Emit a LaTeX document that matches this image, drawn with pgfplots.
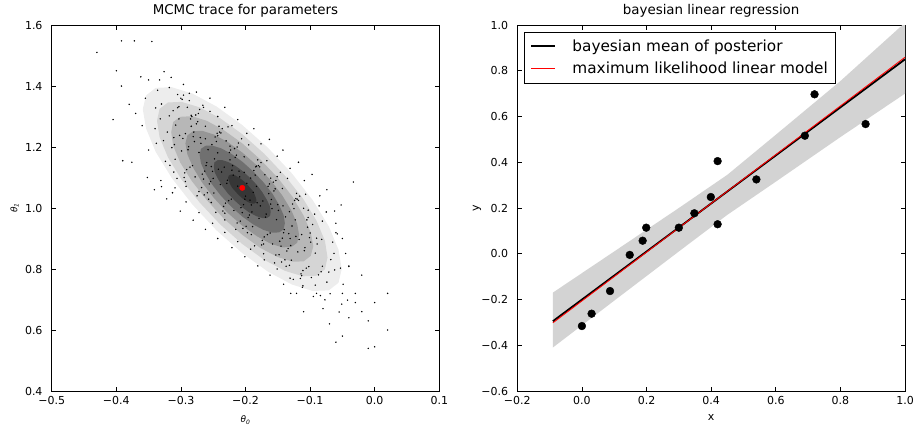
\documentclass[border=0pt]{standalone}
\usepackage{fontspec}
\setmainfont{DejaVu Sans}
\usepackage{pgfplots}
\pgfplotsset{compat=1.18}
\definecolor{bandgray}{RGB}{211,211,211}
\begin{document}
\begin{tikzpicture}
\path[use as bounding box] (0pt,0pt) rectangle (913pt,424pt);
\pgfplotsset{
  panel/.style={
    scale only axis, height=366pt,
    enlargelimits=false,
    axis line style={line width=0.9pt},
    every tick/.style={black, line width=0.6pt},
    major tick length=4.5pt,
    tick label style={font=\fontsize{11}{13}\selectfont, inner sep=0pt},
    yticklabel style={xshift=-9pt},
    xticklabel style={yshift=-5.5pt},
    title style={font=\fontsize{13.4}{16}\selectfont, at={(axis description cs:0.5,1)}, anchor=base, inner sep=0pt, yshift=4.3pt},
    /pgf/number format/assume math mode=true,
  },
  cloud/.style={draw=none, fill=black, fill opacity=#1},
}
% ---------------- left panel ----------------
\begin{axis}[panel, at={(51.7pt,33pt)}, anchor=south west, width=387.6pt,
  xmin=-0.5, xmax=0.1, ymin=0.4, ymax=1.6,
  xtick={-0.5,-0.4,-0.3,-0.2,-0.1,0,0.1},
  xticklabels={−0.5,−0.4,−0.3,−0.2,−0.1,0.0,0.1},
  ytick={0.4,0.6,0.8,1.0,1.2,1.4,1.6},
  yticklabels={0.4,0.6,0.8,1.0,1.2,1.4,1.6},
  title={MCMC trace for parameters},
  xlabel={\fontsize{9}{10}\selectfont\itshape θ\textsubscript{0}},
  xlabel style={at={(axis description cs:0.5,-0.0874)}, anchor=base, inner sep=0pt},
  ylabel={\fontsize{9}{10}\selectfont\itshape θ\textsubscript{1}},
  ylabel style={at={(axis description cs:-0.096,0.5)}, anchor=center, inner sep=0pt},
]
% density layers of the sample cloud (outer to inner)
\addplot[cloud=0.07] coordinates {
(-0.051,0.800) (-0.056,0.863) (-0.071,0.940) (-0.096,1.026) (-0.128,1.113) (-0.165,1.197)
(-0.205,1.272) (-0.245,1.333) (-0.282,1.375) (-0.314,1.396) (-0.339,1.394) (-0.354,1.369)
(-0.359,1.324) (-0.354,1.261) (-0.339,1.184) (-0.314,1.098) (-0.282,1.011) (-0.245,0.927)
(-0.205,0.852) (-0.165,0.791) (-0.128,0.749) (-0.096,0.728) (-0.071,0.730) (-0.056,0.755)} -- cycle;
\addplot[cloud=0.10] coordinates {
(-0.073,0.838) (-0.077,0.892) (-0.090,0.958) (-0.111,1.031) (-0.139,1.106) (-0.171,1.178)
(-0.205,1.242) (-0.239,1.294) (-0.271,1.330) (-0.299,1.348) (-0.320,1.346) (-0.333,1.325)
(-0.337,1.286) (-0.333,1.232) (-0.320,1.166) (-0.299,1.093) (-0.271,1.018) (-0.239,0.946)
(-0.205,0.882) (-0.171,0.830) (-0.139,0.794) (-0.111,0.776) (-0.090,0.778) (-0.077,0.799)} -- cycle;
\addplot[cloud=0.14] coordinates {
(-0.095,0.875) (-0.099,0.920) (-0.110,0.975) (-0.127,1.036) (-0.150,1.099) (-0.177,1.159)
(-0.205,1.212) (-0.234,1.256) (-0.260,1.286) (-0.283,1.301) (-0.301,1.299) (-0.312,1.282)
(-0.315,1.249) (-0.312,1.204) (-0.301,1.149) (-0.283,1.088) (-0.260,1.026) (-0.234,0.966)
(-0.205,0.912) (-0.177,0.869) (-0.150,0.839) (-0.127,0.824) (-0.110,0.825) (-0.099,0.843)} -- cycle;
\addplot[cloud=0.18] coordinates {
(-0.117,0.912) (-0.120,0.948) (-0.129,0.992) (-0.143,1.041) (-0.161,1.091) (-0.182,1.139)
(-0.205,1.182) (-0.228,1.217) (-0.249,1.241) (-0.267,1.253) (-0.281,1.252) (-0.290,1.238)
(-0.293,1.212) (-0.290,1.176) (-0.281,1.132) (-0.267,1.083) (-0.249,1.033) (-0.228,0.985)
(-0.205,0.942) (-0.182,0.907) (-0.161,0.883) (-0.143,0.871) (-0.129,0.872) (-0.120,0.886)} -- cycle;
\addplot[cloud=0.25] coordinates {
(-0.139,0.950) (-0.141,0.977) (-0.148,1.010) (-0.158,1.046) (-0.172,1.084) (-0.188,1.120)
(-0.205,1.152) (-0.222,1.178) (-0.238,1.196) (-0.252,1.205) (-0.262,1.204) (-0.269,1.194)
(-0.271,1.174) (-0.269,1.147) (-0.262,1.114) (-0.252,1.078) (-0.238,1.040) (-0.222,1.004)
(-0.205,0.972) (-0.188,0.946) (-0.172,0.928) (-0.158,0.919) (-0.148,0.920) (-0.141,0.930)} -- cycle;
\addplot[cloud=0.30] coordinates {
(-0.161,0.987) (-0.162,1.005) (-0.167,1.027) (-0.174,1.052) (-0.183,1.077) (-0.194,1.101)
(-0.205,1.122) (-0.216,1.139) (-0.227,1.151) (-0.236,1.157) (-0.243,1.157) (-0.248,1.150)
(-0.249,1.137) (-0.248,1.119) (-0.243,1.097) (-0.236,1.072) (-0.227,1.047) (-0.216,1.023)
(-0.205,1.002) (-0.194,0.985) (-0.183,0.973) (-0.174,0.967) (-0.167,0.967) (-0.162,0.974)} -- cycle;
\addplot[cloud=0.30] coordinates {
(-0.183,1.025) (-0.184,1.034) (-0.186,1.045) (-0.189,1.057) (-0.194,1.069) (-0.199,1.081)
(-0.205,1.092) (-0.211,1.101) (-0.216,1.107) (-0.221,1.110) (-0.224,1.109) (-0.226,1.106)
(-0.227,1.099) (-0.226,1.090) (-0.224,1.079) (-0.221,1.067) (-0.216,1.055) (-0.211,1.043)
(-0.205,1.032) (-0.199,1.023) (-0.194,1.017) (-0.189,1.014) (-0.186,1.015) (-0.184,1.018)} -- cycle;
% individual samples
\addplot[only marks, mark=*, mark size=0.5pt, mark options={draw=none, fill=black, fill opacity=0.55}] table {
x y
-0.339 1.328
-0.327 1.221
-0.333 1.420
-0.321 1.249
-0.336 1.386
-0.324 1.153
-0.330 1.341
-0.338 1.212
-0.326 1.447
-0.332 1.292
-0.308 1.272
-0.314 1.198
-0.300 1.360
-0.311 1.231
-0.305 1.329
-0.317 1.140
-0.303 1.292
-0.309 1.160
-0.315 1.428
-0.302 1.238
-0.312 1.319
-0.306 1.097
-0.318 1.302
-0.310 1.208
-0.293 1.244
-0.282 1.139
-0.298 1.356
-0.289 1.191
-0.285 1.292
-0.295 1.100
-0.280 1.249
-0.291 1.126
-0.287 1.376
-0.297 1.228
-0.284 1.268
-0.292 1.071
-0.281 1.234
-0.299 1.187
-0.290 1.330
-0.286 1.134
-0.296 1.370
-0.288 1.201
-0.283 1.300
-0.294 1.115
-0.279 1.218
-0.267 1.111
-0.273 1.310
-0.261 1.139
-0.276 1.276
-0.264 1.043
-0.270 1.231
-0.278 1.102
-0.266 1.337
-0.272 1.182
-0.262 1.227
-0.275 1.040
-0.269 1.212
-0.263 1.121
-0.277 1.305
-0.265 1.095
-0.271 1.323
-0.260 1.149
-0.274 1.283
-0.268 1.067
-0.248 1.161
-0.254 1.087
-0.240 1.249
-0.251 1.120
-0.245 1.218
-0.257 1.029
-0.243 1.181
-0.249 1.049
-0.255 1.317
-0.242 1.127
-0.252 1.208
-0.246 0.986
-0.258 1.191
-0.250 1.097
-0.244 1.245
-0.256 1.079
-0.241 1.268
-0.253 1.136
-0.247 1.233
-0.259 1.050
-0.233 1.134
-0.222 1.029
-0.238 1.246
-0.229 1.081
-0.225 1.182
-0.235 0.990
-0.220 1.139
-0.231 1.016
-0.227 1.266
-0.237 1.118
-0.224 1.158
-0.232 0.961
-0.221 1.124
-0.239 1.077
-0.230 1.220
-0.226 1.024
-0.236 1.260
-0.228 1.091
-0.223 1.190
-0.234 1.005
-0.219 1.108
-0.207 1.001
-0.213 1.200
-0.201 1.029
-0.216 1.166
-0.204 0.933
-0.210 1.121
-0.218 0.992
-0.206 1.227
-0.212 1.072
-0.202 1.117
-0.215 0.930
-0.209 1.102
-0.203 1.011
-0.217 1.195
-0.205 0.985
-0.211 1.213
-0.200 1.039
-0.214 1.173
-0.208 0.957
-0.188 1.051
-0.194 0.977
-0.180 1.139
-0.191 1.010
-0.185 1.108
-0.197 0.919
-0.183 1.071
-0.189 0.939
-0.195 1.207
-0.182 1.017
-0.192 1.098
-0.186 0.876
-0.198 1.081
-0.190 0.987
-0.184 1.135
-0.196 0.969
-0.181 1.158
-0.193 1.026
-0.187 1.123
-0.199 0.940
-0.173 1.023
-0.162 0.918
-0.178 1.135
-0.169 0.970
-0.165 1.071
-0.175 0.879
-0.160 1.028
-0.171 0.905
-0.167 1.155
-0.177 1.007
-0.164 1.047
-0.172 0.850
-0.161 1.013
-0.179 0.966
-0.170 1.109
-0.166 0.913
-0.176 1.149
-0.168 0.980
-0.163 1.079
-0.174 0.894
-0.159 0.998
-0.147 0.891
-0.153 1.090
-0.141 0.919
-0.156 1.056
-0.144 0.823
-0.150 1.011
-0.158 0.882
-0.146 1.117
-0.152 0.962
-0.142 1.007
-0.155 0.820
-0.149 0.992
-0.143 0.901
-0.157 1.085
-0.145 0.875
-0.151 1.103
-0.140 0.929
-0.154 1.063
-0.148 0.847
-0.128 0.941
-0.134 0.867
-0.120 1.029
-0.131 0.900
-0.125 0.998
-0.137 0.809
-0.123 0.961
-0.129 0.829
-0.135 1.097
-0.122 0.907
-0.132 0.988
-0.126 0.766
-0.138 0.971
-0.130 0.877
-0.124 1.025
-0.136 0.859
-0.121 1.048
-0.133 0.916
-0.127 1.013
-0.139 0.830
-0.113 0.913
-0.102 0.808
-0.118 1.025
-0.109 0.860
-0.105 0.961
-0.115 0.769
-0.100 0.918
-0.111 0.795
-0.107 1.045
-0.117 0.897
-0.104 0.937
-0.112 0.740
-0.101 0.903
-0.119 0.856
-0.110 0.999
-0.106 0.803
-0.116 1.039
-0.108 0.870
-0.103 0.969
-0.114 0.784
-0.099 0.888
-0.087 0.781
-0.093 0.980
-0.081 0.809
-0.096 0.946
-0.084 0.713
-0.090 0.901
-0.098 0.772
-0.086 1.007
-0.092 0.852
-0.082 0.897
-0.095 0.710
-0.089 0.882
-0.083 0.791
-0.068 0.831
-0.074 0.757
-0.060 0.919
-0.071 0.790
-0.065 0.888
-0.077 0.699
-0.063 0.851
-0.069 0.719
-0.075 0.987
-0.062 0.797
-0.053 0.803
-0.042 0.698
-0.058 0.915
-0.049 0.750
-0.045 0.851
-0.055 0.659
-0.040 0.808
-0.051 0.685
-0.318 1.395
-0.305 1.372
-0.296 1.405
-0.287 1.352
-0.276 1.380
-0.265 1.330
-0.255 1.360
-0.243 1.300
-0.232 1.330
-0.221 1.270
-0.212 1.290
-0.198 1.245
-0.187 1.260
-0.176 1.210
-0.163 1.225
-0.151 1.170
-0.142 1.190
-0.131 1.130
-0.118 1.150
-0.109 1.090
-0.097 1.110
-0.085 1.040
-0.074 1.060
-0.062 0.990
-0.052 1.010
-0.352 1.100
-0.341 1.060
-0.331 1.090
-0.322 1.030
-0.313 1.050
-0.301 0.990
-0.292 1.020
-0.281 0.960
-0.272 0.985
-0.262 0.930
-0.251 0.950
-0.243 0.900
-0.232 0.920
-0.221 0.870
-0.212 0.890
-0.201 0.840
-0.192 0.865
-0.181 0.810
-0.171 0.830
-0.162 0.780
-0.151 0.800
-0.141 0.750
-0.131 0.770
-0.121 0.720
-0.111 0.745
-0.303 1.332
-0.284 1.304
-0.262 1.268
-0.243 1.237
-0.224 1.203
-0.202 1.168
-0.183 1.137
-0.161 1.098
-0.143 1.064
-0.122 1.031
-0.103 0.993
-0.081 0.957
-0.311 1.118
-0.293 1.087
-0.272 1.054
-0.253 1.018
-0.232 0.983
-0.213 0.951
-0.191 0.913
-0.172 0.882
-0.153 0.846
-0.132 0.812
-0.113 0.778
-0.092 0.747
-0.430 1.510
-0.392 1.548
-0.372 1.548
-0.345 1.546
-0.400 1.450
-0.392 1.400
-0.405 1.290
-0.362 1.430
-0.355 1.360
-0.380 1.340
-0.360 1.270
-0.390 1.155
-0.376 1.150
-0.330 1.070
-0.309 1.066
-0.350 1.190
-0.370 1.310
-0.350 1.420
-0.340 1.260
-0.033 1.085
0.000 0.545
-0.010 0.540
0.020 0.600
-0.010 0.630
0.000 0.690
-0.050 0.580
-0.030 0.720
0.020 0.720
-0.020 0.780
-0.040 0.640
-0.060 0.560
-0.030 0.690
-0.050 0.720
-0.020 0.660
-0.070 0.620
-0.080 0.670
-0.050 0.900
-0.060 0.950
-0.040 0.810
-0.110 0.660
-0.090 0.720
-0.130 0.720
};
\addplot[only marks, mark=*, mark size=2.7pt, mark options={draw=red, fill=red}] coordinates {(-0.205,1.066)};
\end{axis}
% ---------------- right panel ----------------
\begin{axis}[panel, at={(517.3pt,33pt)}, anchor=south west, width=387.7pt,
  xmin=-0.2, xmax=1.0, ymin=-0.6, ymax=1.0,
  xtick={-0.2,0,0.2,0.4,0.6,0.8,1.0},
  xticklabels={−0.2,0.0,0.2,0.4,0.6,0.8,1.0},
  ytick={-0.6,-0.4,-0.2,0,0.2,0.4,0.6,0.8,1.0},
  yticklabels={−0.6,−0.4,−0.2,0.0,0.2,0.4,0.6,0.8,1.0},
  title={bayesian linear regression},
  xlabel={x},
  xlabel style={font=\fontsize{11}{13}\selectfont, at={(axis description cs:0.5,-0.0724)}, anchor=center, inner sep=0pt},
  ylabel={y},
  ylabel style={font=\fontsize{11}{13}\selectfont, at={(axis description cs:-0.104,0.5)}, anchor=center, inner sep=0pt},
  legend style={at={(0.0173,0.981)}, anchor=north west, draw=black, fill=white,
    font=\fontsize{15.3}{18}\selectfont, inner xsep=6pt, inner ysep=5.5pt, row sep=5.3pt, column sep=14pt,
    nodes={inner sep=2pt}, cells={anchor=west}},
  legend image code/.code={\draw[#1] (0pt,0pt) -- (24pt,0pt);},
  every axis legend/.append style={line width=0.8pt},
]
\addplot[draw=none, fill=bandgray, forget plot] coordinates {
(-0.09,-0.17) (0.1,0.01) (0.3,0.20) (0.45,0.345) (0.6,0.52) (0.8,0.755) (1.0,1.01)
(1.0,0.70) (0.8,0.51) (0.6,0.315) (0.45,0.17) (0.3,0.01) (0.1,-0.205) (-0.09,-0.41)} -- cycle;
\addplot[black, line width=1.8pt, legend image post style={line width=2pt}] coordinates {(-0.09,-0.295) (1.0,0.850)};
\addlegendentry{bayesian mean of posterior}
\addplot[red, line width=0.9pt, legend image post style={line width=0.9pt}] coordinates {(-0.09,-0.302) (1.0,0.859)};
\addlegendentry{maximum likelihood linear model}
\addplot[only marks, mark=*, mark size=3.9pt, mark options={draw=black, fill=black}, forget plot] coordinates {
(0.000,-0.316) (0.030,-0.262) (0.087,-0.163) (0.148,-0.005) (0.188,0.057) (0.199,0.114)
(0.300,0.114) (0.348,0.177) (0.399,0.248) (0.420,0.405) (0.420,0.129) (0.540,0.325)
(0.690,0.516) (0.720,0.697) (0.878,0.567)};
\end{axis}
\end{tikzpicture}
\end{document}
